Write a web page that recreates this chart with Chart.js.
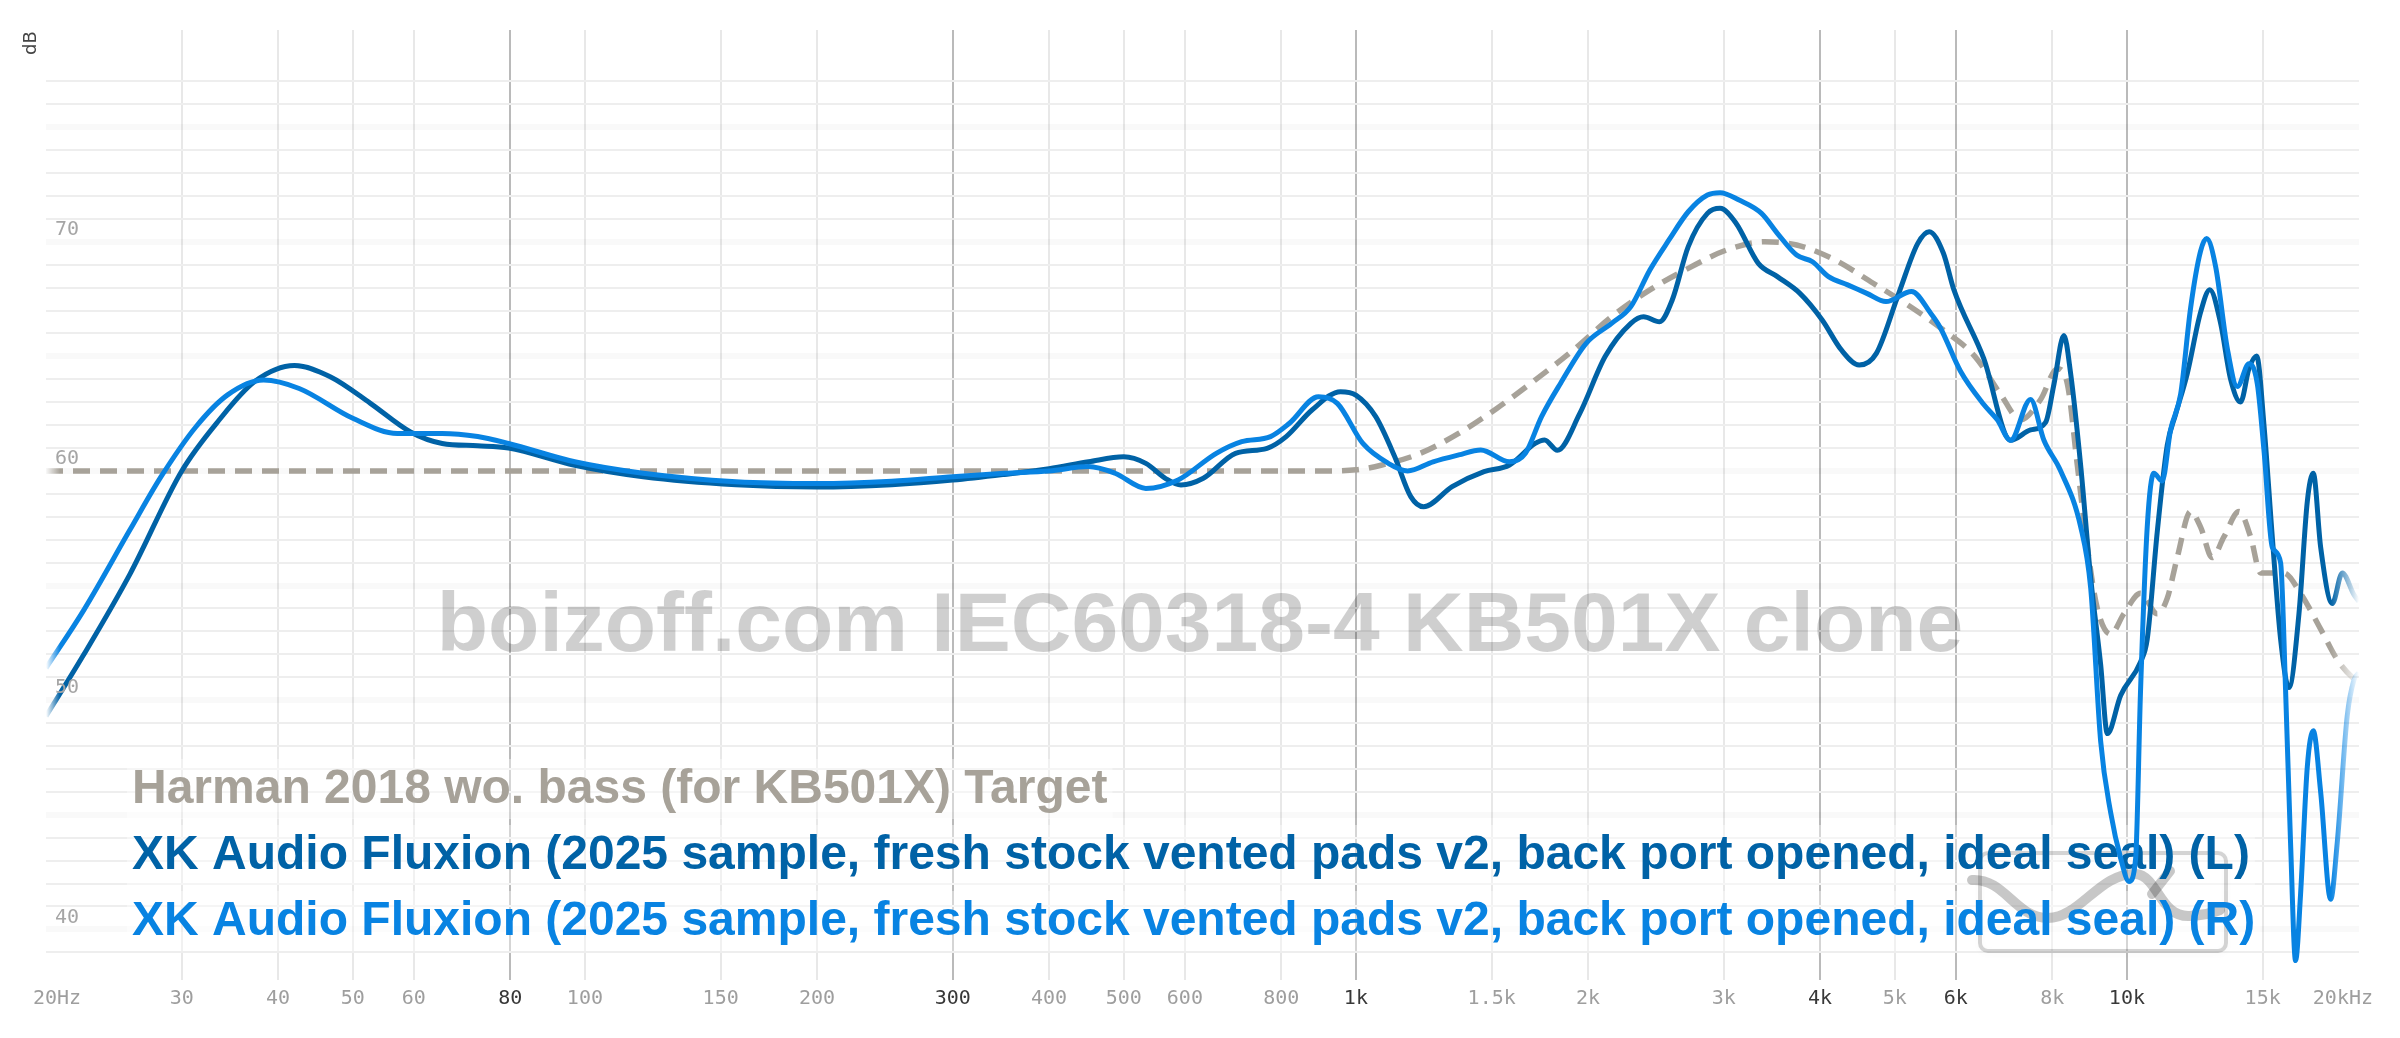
<!DOCTYPE html>
<html>
<head>
<meta charset="utf-8">
<script src="https://cdn.jsdelivr.net/npm/chart.js@4.4.1/dist/chart.umd.min.js"></script>
<style>
  html, body { margin: 0; padding: 0; background: #fff; }
  #wrap { width: 2400px; height: 1038px; position: relative; }
</style>
</head>
<body>
<div id="wrap"><canvas id="fr"></canvas></div>
<script>
// frequency ticks on the x axis
const xTicks = [20, 30, 40, 50, 60, 80, 100, 150, 200, 300, 400, 500, 600, 800, 1000, 1500, 2000, 3000, 4000, 5000, 6000, 8000, 10000, 15000, 20000];
const xLabels = ['20Hz', '30', '40', '50', '60', '80', '100', '150', '200', '300', '400', '500', '600', '800', '1k', '1.5k', '2k', '3k', '4k', '5k', '6k', '8k', '10k', '15k', '20kHz'];
const xMajor = [80, 300, 1000, 4000, 6000, 10000];
const yLabels = [40, 50, 60, 70];

const seriesNames = [
    'Harman 2018 wo. bass (for KB501X) Target',
    'XK Audio Fluxion (2025 sample, fresh stock vented pads v2, back port opened, ideal seal) (L)',
    'XK Audio Fluxion (2025 sample, fresh stock vented pads v2, back port opened, ideal seal) (R)'
];

// Harman target
const targetFreq = [20, 100, 200, 500, 900, 1001, 1081, 1212, 1359, 1523, 1708, 1915, 2146, 2406, 2698, 3025, 3391, 3729, 4180, 4688, 5155, 5781, 6354, 6856, 7280, 7728, 8125, 8371, 8625, 8886, 9154, 9527, 9910, 10416, 10948, 11279, 11621, 12097, 12458, 12903, 13359, 13979, 14471, 14910, 15983, 16797, 17836, 18740, 19618, 20000];
const targetDb = [60, 60, 60, 60, 60, 60.05, 60.26, 60.77, 61.64, 62.73, 63.97, 65.28, 66.73, 67.9, 68.84, 69.64, 70.0, 69.86, 69.21, 68.19, 67.32, 66.15, 64.99, 63.35, 62.23, 63.12, 64.46, 63.8, 60.23, 56.67, 54.0, 52.88, 53.77, 54.66, 53.77, 54.44, 56.22, 58.23, 57.56, 56.22, 57.12, 58.23, 57.12, 55.55, 55.55, 54.66, 53.1, 51.77, 50.99, 50.8];

// left channel
const leftFreq = [20, 22.4, 25.7, 30, 33.5, 37.3, 42, 46.8, 52.7, 59.4, 65.3, 72.6, 79.6, 97, 119, 157, 200, 250, 300, 350, 400, 450, 500, 534, 566, 593, 634, 698, 767, 812, 877, 955, 1001, 1061, 1123, 1178, 1224, 1333, 1466, 1582, 1708, 1757, 1825, 1951, 2105, 2273, 2361, 2476, 2572, 2698, 2857, 2967, 3112, 3326, 3521, 3766, 4025, 4262, 4496, 4732, 5059, 5355, 5541, 5781, 5964, 6522, 7065, 7499, 7844, 8044, 8285, 8454, 8711, 8975, 9246, 9433, 9817, 10416, 10626, 10948, 11279, 11563, 11973, 12458, 12811, 13227, 13629, 14044, 14398, 14733, 15058, 15437, 15825, 16224, 16717, 17139, 17447, 17836, 18466, 19026, 19700, 20000];
const leftDb = [49.3, 52.0, 55.5, 60.0, 62.2, 63.9, 64.6, 64.1, 62.95, 61.7, 61.2, 61.1, 61.0, 60.25, 59.75, 59.4, 59.3, 59.4, 59.6, 59.85, 60.1, 60.4, 60.62, 60.33, 59.68, 59.39, 59.68, 60.77, 60.99, 61.5, 62.66, 63.46, 63.3, 62.37, 60.62, 58.88, 58.44, 59.32, 59.97, 60.26, 61.2, 61.35, 60.9, 62.5, 64.99, 66.44, 66.73, 66.51, 67.46, 69.79, 71.24, 71.46, 70.81, 69.06, 68.48, 67.75, 66.59, 65.28, 64.62, 65.13, 67.75, 69.93, 70.44, 69.5, 67.91, 64.9, 61.34, 61.79, 62.12, 63.8, 65.91, 64.24, 60.23, 55.33, 51.55, 48.54, 50.21, 51.67, 52.66, 57.34, 61.12, 62.46, 64.24, 66.91, 67.91, 66.46, 64.01, 63.01, 64.46, 65.02, 62.01, 57.12, 52.66, 50.55, 53.77, 58.67, 59.9, 56.67, 54.22, 55.55, 54.6, 54.3];

// right channel
const rightFreq = [20, 22.4, 25.7, 28.2, 31.3, 34.4, 38.3, 42.6, 50, 57.1, 65.3, 72.6, 79.6, 97, 119, 157, 200, 250, 300, 350, 400, 450, 487, 534, 588, 659, 711, 775, 820, 894, 946, 1021, 1102, 1167, 1259, 1359, 1452, 1582, 1659, 1741, 1843, 1989, 2146, 2273, 2406, 2547, 2698, 2857, 2967, 3141, 3358, 3521, 3729, 3910, 4102, 4343, 4599, 4870, 5256, 5565, 5730, 6084, 6522, 6791, 7065, 7499, 7805, 8203, 8711, 8975, 9246, 9527, 9817, 10063, 10264, 10416, 10626, 10837, 11111, 11392, 11740, 12097, 12458, 12687, 13035, 13496, 13908, 14398, 14763, 15058, 15437, 15825, 16062, 16303, 16548, 16797, 17139, 17447, 17836, 18375, 18740, 19310, 19700, 20000];
const rightDb = [51.4, 53.94, 57.43, 59.75, 61.93, 63.32, 63.97, 63.6, 62.3, 61.64, 61.64, 61.5, 61.2, 60.4, 59.9, 59.53, 59.45, 59.55, 59.75, 59.9, 60.0, 60.19, 59.9, 59.24, 59.61, 60.77, 61.28, 61.5, 62.08, 63.24, 62.95, 61.2, 60.33, 60.0, 60.4, 60.7, 60.92, 60.4, 60.77, 62.37, 63.83, 65.57, 66.44, 67.17, 68.77, 70.08, 71.31, 72.04, 72.14, 71.82, 71.24, 70.37, 69.42, 69.13, 68.48, 68.12, 67.75, 67.39, 67.83, 66.88, 66.24, 64.35, 62.9, 62.23, 61.34, 63.12, 61.34, 60.01, 57.56, 54.89, 48.21, 45.09, 43.09, 42.09, 43.09, 50.44, 57.56, 59.9, 59.56, 61.79, 63.35, 67.13, 69.58, 70.14, 68.91, 65.35, 63.68, 64.68, 63.79, 60.9, 56.67, 56.0, 50.44, 43.76, 38.64, 41.53, 47.1, 48.66, 45.99, 41.31, 43.76, 49.32, 50.88, 51.2];

const targetColor = '#a7a299';
const leftColor = '#0062a6';
const rightColor = '#0883e2';

function toPoints(freq, db) {
    return freq.map((f, i) => ({ x: f, y: db[i] }));
}

// lines fade out at both ends of the plot
function fadeStroke(color) {
    return function(ctx) {
        const chart = ctx.chart;
        const a = chart.chartArea;
        if (!a) return color;
        const w = a.right - a.left;
        const g = chart.ctx.createLinearGradient(a.left, 0, a.right, 0);
        g.addColorStop(0, color + '00');
        g.addColorStop(14 / w, color);
        g.addColorStop(1 - 28 / w, color);
        g.addColorStop(1, color + '00');
        return g;
    };
}

function drawLogo(ctx) {
    ctx.save();
    ctx.shadowColor = 'rgba(0,0,0,0.18)';
    ctx.shadowBlur = 6;
    ctx.shadowOffsetY = 2;
    ctx.strokeStyle = 'rgba(0,0,0,0.16)';
    ctx.lineWidth = 4;
    ctx.beginPath();
    ctx.roundRect(1980, 853, 246, 98, 8);
    ctx.stroke();
    ctx.restore();

    ctx.save();
    ctx.strokeStyle = 'rgba(0,0,0,0.22)';
    ctx.lineWidth = 10;
    ctx.lineCap = 'round';
    ctx.beginPath();
    ctx.moveTo(1972, 880);
    ctx.bezierCurveTo(2005, 878, 2015, 918, 2048, 918);
    ctx.bezierCurveTo(2080, 918, 2100, 872, 2136, 874);
    ctx.bezierCurveTo(2158, 876, 2160, 918, 2190, 916);
    ctx.bezierCurveTo(2205, 915, 2215, 912, 2220, 910);
    ctx.stroke();
    ctx.beginPath();
    ctx.moveTo(2152, 894);
    ctx.lineTo(2170, 871);
    ctx.stroke();
    ctx.restore();
}

const decorPlugin = {
    id: 'decor',
    beforeDatasetsDraw(chart) {
        const ctx = chart.ctx;
        ctx.save();

        // watermark
        ctx.font = 'bold 84px "Liberation Sans", Arial, sans-serif';
        ctx.fillStyle = 'rgba(0,0,0,0.19)';
        ctx.textAlign = 'center';
        ctx.textBaseline = 'alphabetic';
        ctx.fillText('boizoff.com IEC60318-4 KB501X clone', 1200, 651);

        // legend rows
        ctx.font = 'bold 48px "Liberation Sans", Arial, sans-serif';
        ctx.textAlign = 'left';
        const colors = [targetColor, leftColor, rightColor];
        const baselines = [803, 869, 935];
        seriesNames.forEach((name, i) => {
            const w = ctx.measureText(name).width;
            ctx.fillStyle = 'rgba(255,255,255,0.4)';
            ctx.fillRect(127, baselines[i] - 44, w + 10, 60);
        });

        drawLogo(ctx);

        seriesNames.forEach((name, i) => {
            ctx.fillStyle = colors[i];
            ctx.fillText(name, 132, baselines[i]);
        });
        ctx.restore();
    },
    afterDraw(chart) {
        const ctx = chart.ctx;
        const xs = chart.scales.x;
        const ys = chart.scales.y;
        ctx.save();
        ctx.font = '20px "DejaVu Sans Mono", monospace';
        ctx.textBaseline = 'middle';
        ctx.textAlign = 'center';
        xTicks.forEach((v, i) => {
            const label = xLabels[i];
            const w = ctx.measureText(label).width;
            let px = xs.getPixelForValue(v);
            px = Math.max(33 + w / 2, Math.min(2373 - w / 2, px));
            ctx.fillStyle = xMajor.includes(v) ? '#383838' : '#9e9e9e';
            ctx.fillText(label, px, 999);
        });
        ctx.textAlign = 'left';
        ctx.fillStyle = '#a5a5a5';
        yLabels.forEach(v => {
            ctx.fillText(String(v), 55, ys.getPixelForValue(v) - 12);
        });
        // axis unit
        ctx.translate(31, 43);
        ctx.rotate(-Math.PI / 2);
        ctx.textAlign = 'center';
        ctx.fillStyle = '#444';
        ctx.font = '18px "DejaVu Sans", sans-serif';
        ctx.fillText('dB', 0, 0);
        ctx.restore();
    }
};

const yGridValues = [];
for (let v = 39; v <= 77; v++) yGridValues.push(v);

const ctx = document.getElementById('fr').getContext('2d');
const chart = new Chart(ctx, {
    type: 'line',
    data: {
        datasets: [
            {
                label: seriesNames[2],
                data: toPoints(rightFreq, rightDb),
                borderColor: fadeStroke(rightColor),
                borderWidth: 5,
                order: 0
            },
            {
                label: seriesNames[1],
                data: toPoints(leftFreq, leftDb),
                borderColor: fadeStroke(leftColor),
                borderWidth: 5,
                order: 1
            },
            {
                label: seriesNames[0],
                data: toPoints(targetFreq, targetDb),
                borderColor: fadeStroke(targetColor),
                borderWidth: 5.5,
                borderDash: [17, 10],
                order: 2
            }
        ]
    },
    options: {
        responsive: true,
        maintainAspectRatio: false,
        animation: false,
        parsing: false,
        elements: {
            point: { radius: 0 },
            line: { cubicInterpolationMode: 'monotone', fill: false, borderCapStyle: 'butt' }
        },
        layout: { padding: { left: 46, right: 41, top: 30, bottom: 0 } },
        plugins: {
            legend: { display: false },
            tooltip: { enabled: false }
        },
        scales: {
            x: {
                type: 'logarithmic',
                min: 20,
                max: 20000,
                afterBuildTicks: s => { s.ticks = xTicks.map(v => ({ value: v })); },
                afterFit: s => { s.height = 58; },
                ticks: { display: false },
                border: { display: false },
                grid: {
                    drawTicks: false,
                    lineWidth: 2,
                    color: c => {
                        const v = c.tick ? c.tick.value : 0;
                        if (v === 20 || v === 20000) return 'rgba(0,0,0,0)';
                        return xMajor.includes(v) ? '#bababa' : '#e8e8e8';
                    }
                }
            },
            y: {
                min: 37.79,
                max: 79.24,
                afterBuildTicks: s => { s.ticks = yGridValues.map(v => ({ value: v })); },
                afterFit: s => { s.width = 0; },
                ticks: { display: false },
                border: { display: false },
                grid: {
                    drawTicks: false,
                    lineWidth: c => (c.tick && c.tick.value % 5 === 0) ? 6 : 2,
                    color: c => (c.tick && c.tick.value % 5 === 0) ? 'rgba(0,0,0,0.025)' : '#eeeeee'
                }
            }
        }
    },
    plugins: [decorPlugin]
});
</script>
</body>
</html>
